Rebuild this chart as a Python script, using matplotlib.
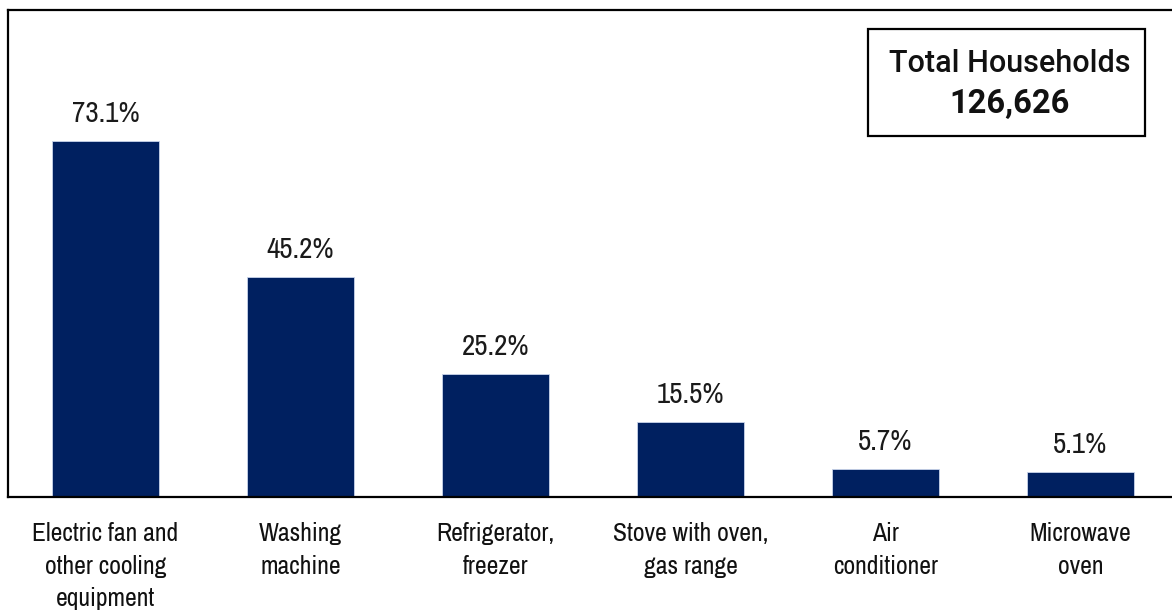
import matplotlib
matplotlib.use("Agg")
import matplotlib.pyplot as plt
from matplotlib.patches import Rectangle
from matplotlib import font_manager

# appliance ownership, share of households
categories = ["Electric fan and\nother cooling\nequipment", "Washing\nmachine",
              "Refrigerator,\nfreezer", "Stove with oven,\ngas range",
              "Air\nconditioner", "Microwave\noven"]
values = [73.1, 45.2, 25.2, 15.5, 5.7, 5.1]
box_title = "Total Households"
box_total = "126,626"

navy = "#002060"
W, H = 1172, 614

names = sorted({f.name for f in font_manager.fontManager.ttflist})
narrow = [n for n in names if "Narrow" in n or "Condensed" in n]
cat_font = narrow[0] if narrow else "Liberation Sans"

fig = plt.figure(figsize=(W / 100, H / 100), dpi=100)
ax = fig.add_axes([8 / W, 117 / H, 1170 / W, 487 / H])

x = range(len(values))
bars = ax.bar(x, values, width=0.55, color=navy, edgecolor="#c8d4ea", linewidth=0.6)
ax.set_xlim(-0.5, len(values) - 0.5)
ax.set_ylim(0, 100)

for b, v in zip(bars, values):
    ax.annotate(f"{v:.1f}%", (b.get_x() + b.get_width() / 2, v),
                xytext=(0, 10), textcoords="offset points", ha="center", va="bottom",
                fontsize=21, family=[cat_font, "DejaVu Sans"], fontweight="medium",
                color="#1a1a1a")

ax.set_xticks(list(x))
ax.set_xticklabels(categories, fontsize=18.5, family=[cat_font, "DejaVu Sans"],
                   linespacing=1.5, color="#111111")
ax.tick_params(axis="x", length=0, pad=18)
ax.set_yticks([])
for s in ["top", "left", "bottom"]:
    ax.spines[s].set_linewidth(1.6)
ax.spines["right"].set_visible(False)

# total households box
fig.patches.append(Rectangle((868 / W, 1 - 136 / H), 277 / W, 107 / H, transform=fig.transFigure,
                             fc="white", ec="black", lw=1.6))
fig.text(1010 / W, 1 - 72 / H, box_title, ha="center", va="baseline", fontsize=22,
         family=["Roboto", "DejaVu Sans"], fontweight="medium", color="#111111")
fig.text(1010 / W, 1 - 113 / H, box_total, ha="center", va="baseline", fontsize=23.5,
         family=["Roboto", "DejaVu Sans"], fontweight="bold", color="#111111")

fig.savefig("out.png", dpi=100)
